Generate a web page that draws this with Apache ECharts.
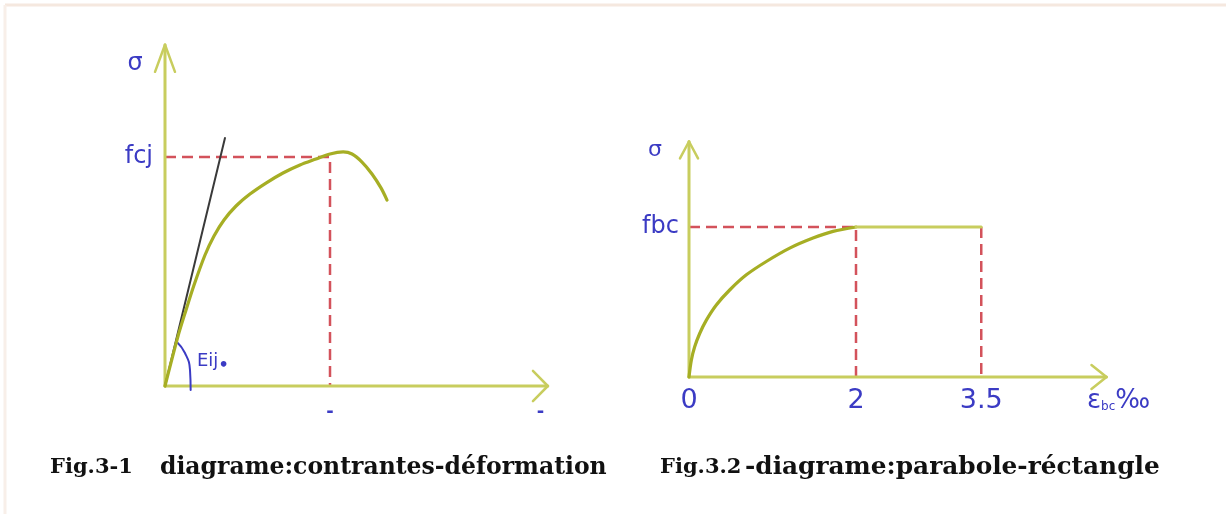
<!DOCTYPE html>
<html>
<head>
<meta charset="utf-8">
<script src="https://cdn.jsdelivr.net/npm/echarts@6/dist/echarts.min.js"></script>
<style>
  html, body { margin: 0; padding: 0; background: #ffffff; }
  #c { width: 1231px; height: 514px; }
</style>
</head>
<body>
<div id="c"></div>
<script>
// ---- Fig.3-1 : stress–strain curve of concrete (σ expressed in units of fcj) ----
const curve1 = [
  [0, 0], [0.158, 0.218], [0.255, 0.332], [0.352, 0.441], [0.485, 0.572],
  [0.594, 0.655], [0.715, 0.725], [0.861, 0.786], [1.03, 0.838], [1.224, 0.886],
  [1.43, 0.93], [1.636, 0.965], [1.83, 0.991], [2.0, 1.013], [2.16, 1.022],
  [2.267, 1.013], [2.388, 0.978], [2.509, 0.926], [2.618, 0.865], [2.691, 0.812]
];
const tangent1 = [[0, 0], [0.727, 1.083]];          // initial modulus Eij
const peak1 = [2, 1];                                // (strain at fcj, fcj)
const angleArc1 = [[0.141, 0.193], [0.242, 0.144], [0.303, 0.07], [0.311, -0.017]];
const xTicks1 = [2, 4.55];
const xTickLabels1 = ['-', '-'];
const yTicks1 = [1];
const yTickLabels1 = ['fcj'];
const axisEnd1 = [4.64, 1.49];                       // arrow tips (x, y)

// ---- Fig.3.2 : parabola–rectangle diagram (σ expressed in units of fbc) ----
const parabola2 = [
  [0, 0], [0.028, 0.112], [0.068, 0.201], [0.128, 0.290], [0.208, 0.379],
  [0.327, 0.480], [0.487, 0.580], [0.687, 0.681], [0.926, 0.770], [1.206, 0.859],
  [1.485, 0.926], [1.725, 0.971], [2.0, 1.0]
];
const plateau2 = [[2, 1], [3.5, 1]];
const xTicks2 = [0, 2, 3.5];
const xTickLabels2 = ['0', '2', '3.5'];
const yTicks2 = [1];
const yTickLabels2 = ['fbc'];
const axisEnd2 = [5.0, 1.57];

const AXIS = '#c8cd5e';
const CURVE = '#a6ae24';
const RED = '#d3525b';
const BLUE = '#3b3bc4';
const FONT = 'DejaVu Sans';

// plotting frames: axis ranges start slightly below zero so the arrow heads have room
const frames = [
  { left: 148.5, top: 19.6, width: 412.5, height: 389.3, x: [-0.2, 4.8], y: [-0.1, 1.6] },
  { left: 672.3, top: 122, width: 450.9, height: 270, x: [-0.2, 5.2], y: [-0.1, 1.7] }
];
// pixel distance from the grid edge to the zero line, used to put labels on the drawn axes
const zeroShift = f => ({
  x: -f.height * (0 - f.y[0]) / (f.y[1] - f.y[0]),
  y: -f.width * (0 - f.x[0]) / (f.x[1] - f.x[0])
});

function line(xi, yi, data, color, width, extra) {
  return Object.assign({
    type: 'line', xAxisIndex: xi, yAxisIndex: yi, data: data,
    showSymbol: false, symbol: 'none', silent: true, animation: false, clip: false,
    lineStyle: { color: color, width: width, cap: 'round', join: 'round' }
  }, extra || {});
}

function axisSeries(i, end, head) {
  // axis lines with open chevron arrow heads
  const [ex, ey] = end;
  const [yw, yb, xb, xw] = head;
  return [
    line(i, i, [[0, 0], [0, ey]], AXIS, 3),
    line(i, i, [[0, 0], [ex, 0]], AXIS, 3),
    line(i, i, [[-yw, ey - yb], [0, ey], [yw, ey - yb]], AXIS, 2.5),
    line(i, i, [[ex - xb, xw], [ex, 0], [ex - xb, -xw]], AXIS, 2.5)
  ];
}

function dashed(i, data) {
  return line(i, i, data, RED, 2.5, {
    lineStyle: { color: RED, width: 2.5, type: [11, 6] }, z: 1
  });
}

function xAxisCfg(i, ticks, labels, fontSize, margin, bold) {
  const f = frames[i];
  return {
    type: 'value', gridIndex: i, min: f.x[0], max: f.x[1], offset: zeroShift(f).x,
    axisLine: { show: false }, axisTick: { show: false }, splitLine: { show: false },
    axisLabel: {
      customValues: ticks,
      formatter: v => labels[ticks.indexOf(v)],
      color: BLUE, fontFamily: FONT, fontSize: fontSize, margin: margin,
      fontWeight: bold ? 'bold' : 'normal'
    }
  };
}

function yAxisCfg(i, ticks, labels, margin) {
  const f = frames[i];
  return {
    type: 'value', gridIndex: i, min: f.y[0], max: f.y[1], offset: zeroShift(f).y,
    axisLine: { show: false }, axisTick: { show: false }, splitLine: { show: false },
    axisLabel: {
      customValues: ticks,
      formatter: v => labels[ticks.indexOf(v)],
      color: BLUE, fontFamily: FONT, fontSize: 24, margin: margin
    }
  };
}

const chart = echarts.init(document.getElementById('c'), null, { renderer: 'canvas' });

chart.setOption({
  backgroundColor: '#ffffff',
  animation: false,
  grid: frames.map(f => ({ left: f.left, top: f.top, width: f.width, height: f.height })),
  xAxis: [
    xAxisCfg(0, xTicks1, xTickLabels1, 18, 17, true),
    xAxisCfg(1, xTicks2, xTickLabels2, 27, 10, false)
  ],
  yAxis: [
    yAxisCfg(0, yTicks1, yTickLabels1, 12),
    yAxisCfg(1, yTicks2, yTickLabels2, 10)
  ],
  series: [
    ...axisSeries(0, axisEnd1, [0.121, 0.118, 0.18, 0.066]),
    dashed(0, [[0, peak1[1]], peak1, [peak1[0], 0]]),
    line(0, 0, tangent1, '#3a3a3a', 2, { z: 3 }),
    line(0, 0, curve1, CURVE, 3.2, { smooth: 0.3, z: 4 }),
    line(0, 0, angleArc1, BLUE, 2, { smooth: 0.5, z: 3 }),

    ...axisSeries(1, axisEnd2, [0.108, 0.113, 0.18, 0.08]),
    dashed(1, [[0, 1], [2, 1], [2, 0]]),
    dashed(1, [[3.5, 1], [3.5, 0]]),
    line(1, 1, parabola2, CURVE, 3.2, { smooth: 0.3, z: 4 }),
    line(1, 1, plateau2, AXIS, 3, { z: 4 })
  ],
  graphic: [
    // soft frame along the top and left edges
    { type: 'line', shape: { x1: 5, y1: 5, x2: 1226, y2: 5 }, style: { stroke: '#f5e8df', lineWidth: 3 }, silent: true },
    { type: 'line', shape: { x1: 5, y1: 5, x2: 5, y2: 514 }, style: { stroke: '#f8efe9', lineWidth: 3 }, silent: true },

    // axis names
    { type: 'text', x: 135, y: 64, style: { text: 'σ', fill: BLUE, font: '24px "DejaVu Sans"', align: 'center', verticalAlign: 'middle' } },
    { type: 'text', x: 655, y: 150, style: { text: 'σ', fill: BLUE, font: '22px "DejaVu Sans"', align: 'center', verticalAlign: 'middle' } },
    {
      type: 'text', x: 1087, y: 401,
      style: {
        text: '{e|ε}{s|bc}{e|‰}',
        verticalAlign: 'middle',
        rich: {
          e: { fill: BLUE, fontFamily: FONT, fontSize: 26 },
          s: { fill: BLUE, fontFamily: FONT, fontSize: 12, padding: [12, 0, 0, 0] }
        }
      }
    },
    {
      type: 'text', x: 197, y: 361,
      style: {
        text: 'Eij{d|•}',
        verticalAlign: 'middle',
        rich: {
          d: { fill: BLUE, fontFamily: FONT, fontSize: 16, fontWeight: 'bold', padding: [10, 0, 0, 0] }
        },
        fill: BLUE, fontFamily: FONT, fontSize: 18
      }
    },

    // captions
    { type: 'text', x: 50, y: 468, style: { text: 'Fig.3-1', fill: '#111', font: 'bold 21px "DejaVu Serif"', verticalAlign: 'middle' } },
    { type: 'text', x: 160, y: 468, style: { text: 'diagrame:contrantes-déformation', fill: '#111', font: 'bold 23.5px "DejaVu Serif"', verticalAlign: 'middle' } },
    { type: 'text', x: 660, y: 468, style: { text: 'Fig.3.2', fill: '#111', font: 'bold 21px "DejaVu Serif"', verticalAlign: 'middle' } },
    { type: 'text', x: 745, y: 468, style: { text: '-diagrame:parabole-réctangle', fill: '#111', font: 'bold 24.8px "DejaVu Serif"', verticalAlign: 'middle' } }
  ]
});
</script>
</body>
</html>
